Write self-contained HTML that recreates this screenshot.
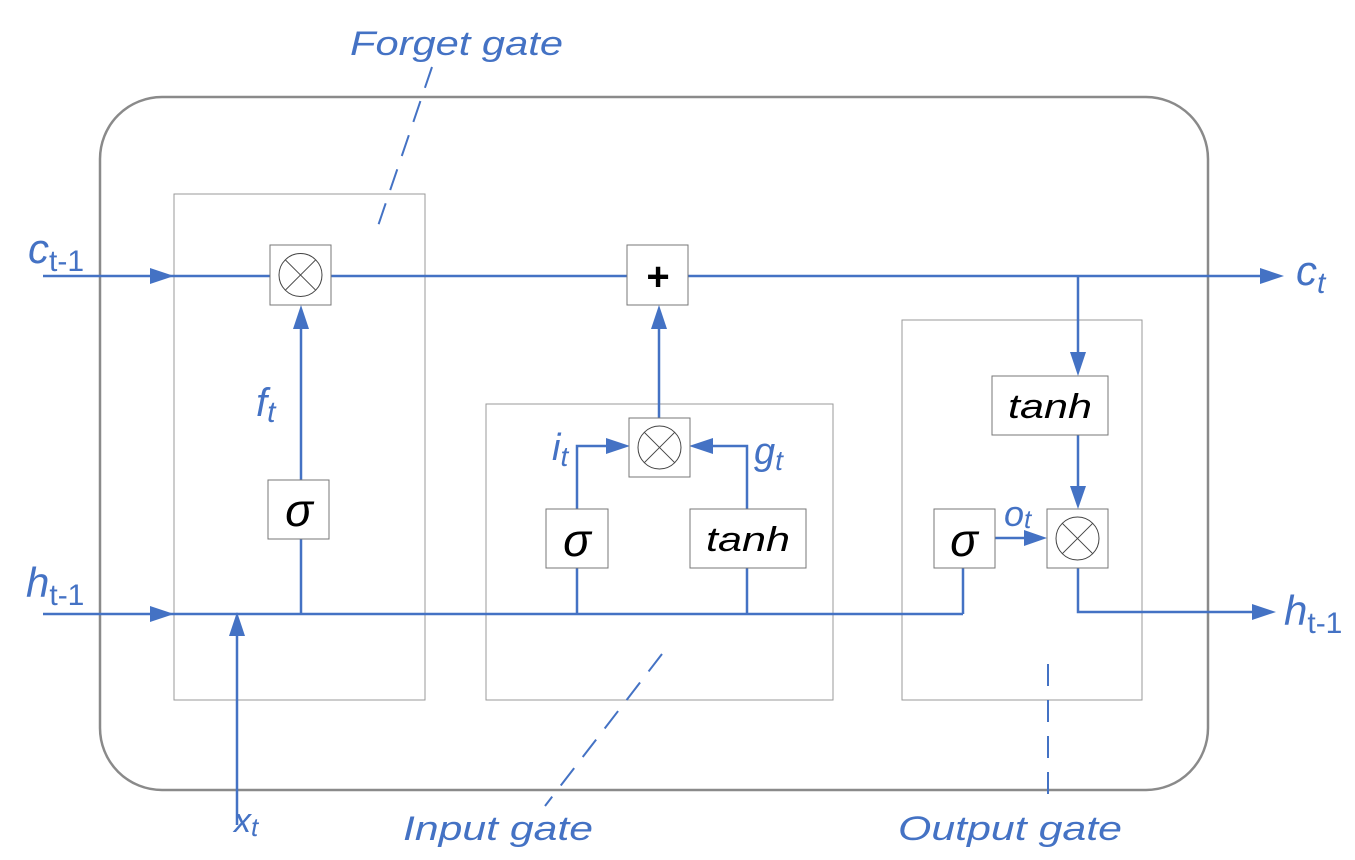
<!DOCTYPE html>
<html><head><meta charset="utf-8"><style>html,body{margin:0;padding:0;background:#fff}svg{display:block}</style></head>
<body>
<svg width="1355" height="860" viewBox="0 0 1355 860" xmlns="http://www.w3.org/2000/svg">
<g fill="none">
<rect x="100" y="97" width="1108" height="693" rx="62" ry="62" stroke="#8a8a8a" stroke-width="2.5"/>
<rect x="174" y="194" width="251" height="506" stroke="#999" stroke-width="1"/>
<rect x="486" y="404" width="347" height="296" stroke="#999" stroke-width="1"/>
<rect x="902" y="320" width="240" height="380" stroke="#999" stroke-width="1"/>
</g>
<g stroke="#4472C4" stroke-width="2.5" fill="none">
<line x1="43" y1="276" x2="270" y2="276"/>
<line x1="331" y1="276" x2="627" y2="276"/>
<line x1="688" y1="276" x2="1262" y2="276"/>
<line x1="43" y1="614" x2="963" y2="614"/>
<polyline points="963,614 963,568"/>
<line x1="237" y1="825" x2="237" y2="636"/>
<line x1="301" y1="480" x2="301" y2="328"/>
<line x1="301" y1="539" x2="301" y2="614"/>
<line x1="659" y1="418" x2="659" y2="328"/>
<polyline points="577,509 577,446 608,446"/>
<polyline points="747,509 747,446 712,446"/>
<line x1="577" y1="568" x2="577" y2="614"/>
<line x1="747" y1="568" x2="747" y2="614"/>
<line x1="1078" y1="276" x2="1078" y2="354"/>
<line x1="1078" y1="435" x2="1078" y2="488"/>
<line x1="995" y1="538" x2="1026" y2="538"/>
<polyline points="1078,568 1078,612 1255,612"/>
</g>
<g fill="#4472C4">
<polygon points="150,268 174,276 150,284"/>
<polygon points="150,606 174,614 150,622"/>
<polygon points="1260,268 1284,276 1260,284"/>
<polygon points="1252,604 1276,612 1252,620"/>
<polygon points="229,636 237,612 245,636"/>
<polygon points="293,329 301,305 309,329"/>
<polygon points="651,329 659,305 667,329"/>
<polygon points="606,438 630,446 606,454"/>
<polygon points="713,438 689,446 713,454"/>
<polygon points="1070,352 1078,376 1086,352"/>
<polygon points="1070,486 1078,509 1086,486"/>
<polygon points="1024,530 1047,538 1024,546"/>
</g>
<g stroke="#777" stroke-width="1" fill="#fff">
<rect x="270" y="245" width="61" height="60"/>
<rect x="627" y="245" width="61" height="60"/>
<rect x="268" y="480" width="61" height="59"/>
<rect x="629" y="418" width="61" height="59"/>
<rect x="546" y="509" width="62" height="59"/>
<rect x="690" y="509" width="116" height="59"/>
<rect x="992" y="376" width="116" height="59"/>
<rect x="934" y="509" width="61" height="59"/>
<rect x="1047" y="509" width="61" height="59"/>
</g>
<g stroke="#444" stroke-width="1" fill="none">
<circle cx="300.5" cy="275" r="21.5"/><line x1="285.3" y1="259.8" x2="315.7" y2="290.2"/><line x1="315.7" y1="259.8" x2="285.3" y2="290.2"/>
<circle cx="659.5" cy="447.5" r="21.5"/><line x1="644.3" y1="432.3" x2="674.7" y2="462.7"/><line x1="674.7" y1="432.3" x2="644.3" y2="462.7"/>
<circle cx="1077.5" cy="538.5" r="21.5"/><line x1="1062.3" y1="523.3" x2="1092.7" y2="553.7"/><line x1="1092.7" y1="523.3" x2="1062.3" y2="553.7"/>
</g>
<g stroke="#4472C4" stroke-width="2" stroke-dasharray="22,14" fill="none">
<line x1="432" y1="67" x2="378" y2="226"/>
<line x1="662" y1="654" x2="545" y2="806"/>
<line x1="1048" y1="664" x2="1048" y2="806"/>
</g>
<g font-family="Liberation Sans, DejaVu Sans, sans-serif" font-style="italic" fill="#000">
<text x="658" y="290" font-size="40" font-weight="bold" font-style="normal" text-anchor="middle">+</text>
<text x="299" y="526" font-size="46" text-anchor="middle">σ</text>
<text x="577" y="556" font-size="46" text-anchor="middle">σ</text>
<text x="964" y="556" font-size="46" text-anchor="middle">σ</text>
<text x="706" y="551" font-size="34" textLength="84" lengthAdjust="spacingAndGlyphs">tanh</text>
<text x="1008" y="418" font-size="34" textLength="84" lengthAdjust="spacingAndGlyphs">tanh</text>
</g>
<g font-family="Liberation Sans, DejaVu Sans, sans-serif" font-style="italic" fill="#4472C4">
<text x="350" y="55" font-size="34" textLength="213" lengthAdjust="spacingAndGlyphs">Forget gate</text>
<text x="403" y="840" font-size="34" textLength="190" lengthAdjust="spacingAndGlyphs">Input gate</text>
<text x="898" y="840" font-size="34" textLength="224" lengthAdjust="spacingAndGlyphs">Output gate</text>
<text x="28" y="263" font-size="42">c<tspan font-size="30" dy="8" font-style="normal">t-1</tspan></text>
<text x="26" y="597" font-size="42">h<tspan font-size="30" dy="8" font-style="normal">t-1</tspan></text>
<text x="1296" y="285" font-size="42">c<tspan font-size="30" dy="8">t</tspan></text>
<text x="1284" y="625" font-size="42">h<tspan font-size="30" dy="8" font-style="normal">t-1</tspan></text>
<text x="234" y="832" font-size="34">x<tspan font-size="26" dy="4">t</tspan></text>
<text x="256" y="416" font-size="40">f<tspan font-size="30" dy="6">t</tspan></text>
<text x="552" y="460" font-size="38">i<tspan font-size="28" dy="6">t</tspan></text>
<text x="754" y="464" font-size="38">g<tspan font-size="28" dy="6">t</tspan></text>
<text x="1004" y="526" font-size="36">o<tspan font-size="26" dy="2">t</tspan></text>
</g>
</svg>
</body></html>
